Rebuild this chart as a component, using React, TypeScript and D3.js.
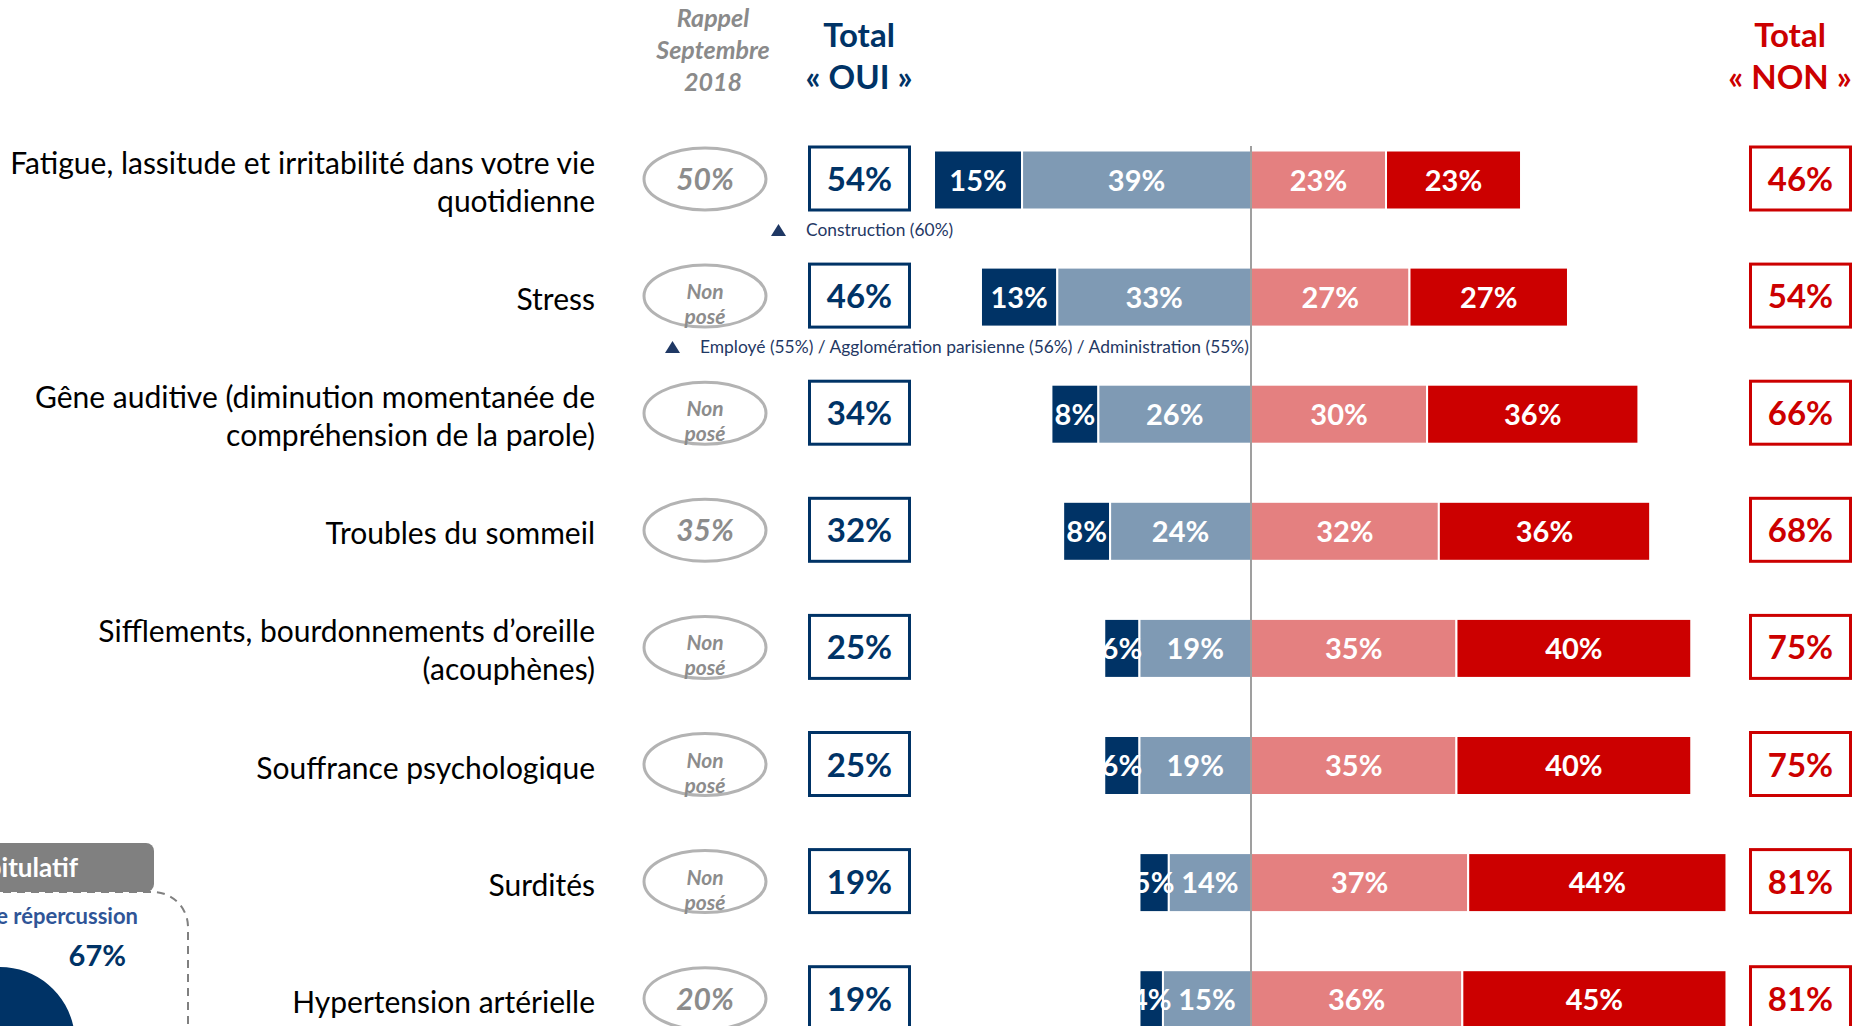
import React from "react";
import * as d3 from "d3";

const W = 1861;
const H = 1026;

const categories: string[][] = [
  ["Fatigue, lassitude et irritabilité dans votre vie", "quotidienne"],
  ["Stress"],
  ["Gêne auditive (diminution momentanée de", "compréhension de la parole)"],
  ["Troubles du sommeil"],
  ["Sifflements, bourdonnements d’oreille", "(acouphènes)"],
  ["Souffrance psychologique"],
  ["Surdités"],
  ["Hypertension artérielle"],
];

const ouiFort = [15, 13, 8, 8, 6, 6, 5, 4];
const ouiPeu = [39, 33, 26, 24, 19, 19, 14, 15];
const nonPas = [23, 27, 30, 32, 35, 35, 37, 36];
const nonPasDuTout = [23, 27, 36, 36, 40, 40, 44, 45];
const totalOui = [54, 46, 34, 32, 25, 25, 19, 19];
const totalNon = [46, 54, 66, 68, 75, 75, 81, 81];
const rappel: (string | null)[] = ["50%", null, null, "35%", null, null, null, "20%"];
const annotations: { row: number; text: string; x: number }[] = [
  { row: 0, text: "Construction (60%)", x: 806 },
  { row: 1, text: "Employé (55%) / Agglomération parisienne (56%) / Administration (55%)", x: 700 },
];
const pieValues = [67, 33];

const NAVY = "#003366";
const STEEL = "#7f9ab4";
const PINK = "#e48080";
const RED = "#cc0000";
const GRAY = "#8a8a8a";
const FONT = "Lato, 'Open Sans', sans-serif";

export default function App() {
  const unit = 5.87;
  const x = d3.scaleLinear().domain([-60, 100]).range([1251 - 60 * unit, 1251 + 100 * unit]);
  const y = d3
    .scalePoint<number>()
    .domain(d3.range(categories.length))
    .range([180, 999.7]);
  const barH = 59;

  const rows = categories.map((_, i) => [
    { v: ouiFort[i], x0: -(ouiFort[i] + ouiPeu[i]), color: NAVY },
    { v: ouiPeu[i], x0: -ouiPeu[i], color: STEEL },
    { v: nonPas[i], x0: 0, color: PINK },
    { v: nonPasDuTout[i], x0: nonPas[i], color: RED },
  ]);

  const pie = d3.pie<number>().sort(null)(pieValues);
  const arc = d3.arc<d3.PieArcDatum<number>>().innerRadius(0).outerRadius(75);

  return (
    <svg
      width={W}
      height={H}
      style={{ position: "absolute", left: 0, top: 0, background: "#fff" }}
      fontFamily={FONT}
    >
      <rect width={W} height={H} fill="#fff" />
      {/* headers */}
      <g fill={GRAY} fontStyle="italic" fontWeight={700} fontSize={25} textAnchor="middle">
        <text x={713} y={27}>Rappel</text>
        <text x={713} y={59}>Septembre</text>
        <text x={713} y={91}>2018</text>
      </g>
      <g fill={NAVY} fontWeight={700} fontSize={33} textAnchor="middle">
        <text x={859} y={47}>Total</text>
        <text x={859} y={89}>« OUI »</text>
      </g>
      <g fill={RED} fontWeight={700} fontSize={33} textAnchor="middle">
        <text x={1790} y={47}>Total</text>
        <text x={1790} y={89}>« NON »</text>
      </g>

      {categories.map((lines, i) => {
        const cy = y(i)!;
        return (
          <g key={i}>
            {/* label */}
            <g fontSize={30} fill="#000" textAnchor="end">
              {lines.map((l, j) => (
                <text
                  key={j}
                  x={595}
                  y={cy + (j - (lines.length - 1) / 2) * 38 + 13}
                >
                  {l}
                </text>
              ))}
            </g>
            {/* rappel ellipse */}
            <ellipse cx={705} cy={cy - 1} rx={61} ry={31} fill="#fff" stroke="#b3b3b3" strokeWidth={3} />
            {rappel[i] ? (
              <text x={705} y={cy + 10} textAnchor="middle" fontSize={30} fontStyle="italic" fontWeight={700} fill="#8c8c8c">
                {rappel[i]}
              </text>
            ) : (
              <g fontSize={21} fontStyle="italic" fontWeight={700} fill="#8c8c8c" textAnchor="middle">
                <text x={705} y={cy + 2}>Non</text>
                <text x={705} y={cy + 27}>posé</text>
              </g>
            )}
            {/* total oui box */}
            <rect x={809.5} y={cy - 33} width={100} height={63} fill="#fff" stroke={NAVY} strokeWidth={3} />
            <text x={859.5} y={cy + 11} textAnchor="middle" fontSize={33} fontWeight={700} fill={NAVY}>
              {totalOui[i]}%
            </text>
            {/* total non box */}
            <rect x={1750.5} y={cy - 33} width={100} height={63} fill="#fff" stroke={RED} strokeWidth={3} />
            <text x={1800.5} y={cy + 11} textAnchor="middle" fontSize={33} fontWeight={700} fill={RED}>
              {totalNon[i]}%
            </text>
            {/* bars */}
            {rows[i].map((s, k) => (
              <rect
                key={k}
                x={x(s.x0)}
                y={cy - barH / 2}
                width={x(s.x0 + s.v) - x(s.x0)}
                height={barH}
                fill={s.color}
                stroke="#fff"
                strokeWidth={2}
              />
            ))}
            {rows[i].map((s, k) => (
              <text
                key={"t" + k}
                x={(x(s.x0) + x(s.x0 + s.v)) / 2}
                y={cy + 10.5}
                textAnchor="middle"
                fontSize={29}
                fontWeight={700}
                fill="#fff"
              >
                {s.v}%
              </text>
            ))}
          </g>
        );
      })}

      {/* center line */}
      <line x1={x(0)} x2={x(0)} y1={146} y2={H} stroke="#7f7f7f" strokeWidth={1.5} />

      {/* annotations */}
      {annotations.map((a, i) => {
        const cy = y(a.row)! + 50;
        return (
          <g key={i} fill="#1f3864">
            <path d={`M${a.x - 35},${cy + 6} L${a.x - 20},${cy + 6} L${a.x - 27.5},${cy - 6} Z`} />
            <text x={a.x} y={cy + 6} fontSize={17.4}>
              {a.text}
            </text>
          </g>
        );
      })}

      {/* bottom-left summary box (partially visible) */}
      <rect x={-200} y={892} width={388} height={300} rx={35} fill="none" stroke="#808080" strokeWidth={2} strokeDasharray="8 6" />
      <rect x={-60} y={843} width={214} height={49} rx={8} fill="#808080" />
      <text x={78} y={877} textAnchor="end" fontSize={26} fontWeight={700} fill="#fff">
        Récapitulatif
      </text>
      <text x={138} y={924} textAnchor="end" fontSize={22} fontWeight={700} fill="#2f5597">
        Au moins une répercussion
      </text>
      <text x={126} y={966} textAnchor="end" fontSize={29} fontWeight={700} fill={NAVY}>
        67%
      </text>
      <g transform="translate(0,1042)">
        {pie.map((p, i) => (
          <path key={i} d={arc(p) || ""} fill={i === 0 ? NAVY : STEEL} />
        ))}
      </g>
    </svg>
  );
}
